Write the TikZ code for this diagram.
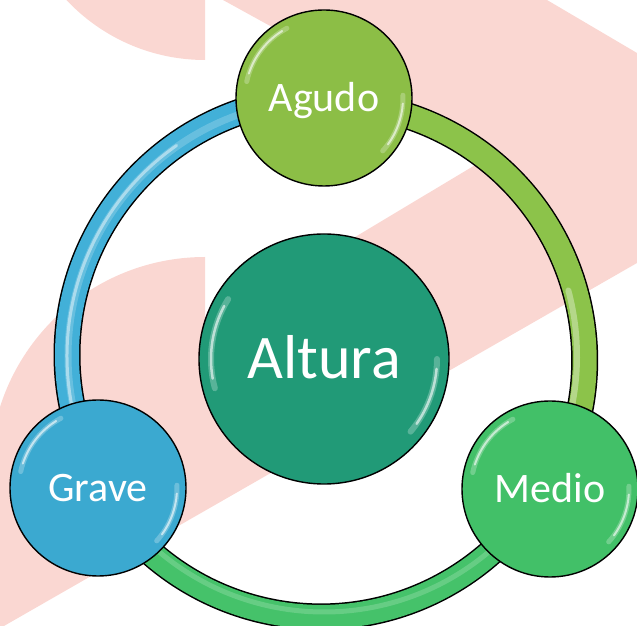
\documentclass[tikz,border=0pt]{standalone}
\usepackage{fontspec}
\setmainfont{Carlito}
\definecolor{pinkbg}{RGB}{250,215,210}
\definecolor{agudoC}{RGB}{140,190,70}
\definecolor{graveC}{RGB}{59,169,208}
\definecolor{medioC}{RGB}{66,192,104}
\definecolor{alturaC}{RGB}{33,154,119}
\definecolor{ringBlue}{RGB}{66,176,216}
\definecolor{ringLime}{RGB}{140,195,74}
\definecolor{ringGreen}{RGB}{69,194,106}
\pgfdeclarelayer{pinklayer}
\pgfdeclarelayer{ringlayer}
\pgfsetlayers{pinklayer,ringlayer,main}
\begin{document}
\begin{tikzpicture}[x=1pt,y=1pt,
  bubble/.style={circle, draw=black, line width=1.4pt, text=white, inner sep=0pt, text depth=0pt},
  sat/.style={bubble, minimum size=176pt, text height=27pt, font=\fontsize{42}{42}\selectfont},
  hub/.style={bubble, minimum size=250pt, text height=40pt, font=\fontsize{62}{62}\selectfont},
  ringout/.style={line width=27pt, black},
  ringin/.style={line width=24pt},
  hl/.style={white, line cap=round, line width=#1},
  hl/.default=3pt]
\useasboundingbox (0,0) rectangle (637,626);

% nodes
\node[hub, fill=alturaC] (altura) at (324,267) {Altura};
\node[sat, fill=agudoC] (agudo) at (324,528) {Agudo};
\node[sat, fill=graveC] (grave) at (98,138) {Grave};
\node[sat, fill=medioC] (medio) at (550,137) {Medio};

% glossy highlights on circles
\foreach \n/\r in {agudo/79, grave/79, medio/79}{
  \draw[hl=5pt, opacity=0.25] ([shift={(118:\r)}]\n.center) arc[start angle=118, end angle=168, radius=\r];
  \draw[hl=2pt, opacity=0.6] ([shift={(122:\r)}]\n.center) arc[start angle=122, end angle=162, radius=\r];
  \draw[hl=5pt, opacity=0.25] ([shift={(-42:\r)}]\n.center) arc[start angle=-42, end angle=2, radius=\r];
  \draw[hl=2pt, opacity=0.6] ([shift={(-36:\r)}]\n.center) arc[start angle=-36, end angle=-4, radius=\r];
}
\draw[hl=6pt, opacity=0.25] ([shift={(148:113)}]altura.center) arc[start angle=148, end angle=195, radius=113];
\draw[hl=2.5pt, opacity=0.6] ([shift={(152:113)}]altura.center) arc[start angle=152, end angle=190, radius=113];
\draw[hl=6pt, opacity=0.25] ([shift={(-40:113)}]altura.center) arc[start angle=-40, end angle=0, radius=113];
\draw[hl=2.5pt, opacity=0.6] ([shift={(-35:113)}]altura.center) arc[start angle=-35, end angle=-5, radius=113];

% ring connecting the three satellites
\begin{pgfonlayer}{ringlayer}
  \draw[ringout] (agudo.center) arc[start angle=90, end angle=209.9, radius=257];
  \draw[ringout] (grave.center) arc[start angle=209.9, end angle=329.9, radius=257];
  \draw[ringout] (medio.center) arc[start angle=-30.1, end angle=90, radius=257];
  \draw[ringin, ringBlue] (agudo.center) arc[start angle=90, end angle=209.9, radius=257];
  \draw[ringin, ringGreen] (grave.center) arc[start angle=209.9, end angle=329.9, radius=257];
  \draw[ringin, ringLime] (medio.center) arc[start angle=-30.1, end angle=90, radius=257];
  \coordinate (rc) at (324,270);
  \draw[hl=7pt, opacity=0.2] ([shift={(110:256)}]rc) arc[start angle=110, end angle=205, radius=256];
  \draw[hl=3pt, opacity=0.45] ([shift={(125:257)}]rc) arc[start angle=125, end angle=200, radius=257];
  \draw[hl=6pt, opacity=0.35] ([shift={(-20:253)}]rc) arc[start angle=-20, end angle=15, radius=253];
  \draw[hl=5pt, opacity=0.18] ([shift={(222:256)}]rc) arc[start angle=222, end angle=318, radius=256];
\end{pgfonlayer}

% pink background shapes
\begin{pgfonlayer}{pinklayer}
  \begin{scope}
    \clip (0,0) rectangle (637,626);
    \fill[pinkbg] (205,756) -- (205,566) arc[start angle=270, end angle=180, radius=190] -- cycle;
    \fill[pinkbg] (205,369) arc[start angle=90, end angle=180, radius=215]
      -- (-10,-8) -- (637,363) -- (637,558) -- (205,299) -- cycle;
    \fill[pinkbg] (223,626) -- (547,626) -- (637,573) -- (637,398) -- cycle;
  \end{scope}
\end{pgfonlayer}
\end{tikzpicture}
\end{document}
